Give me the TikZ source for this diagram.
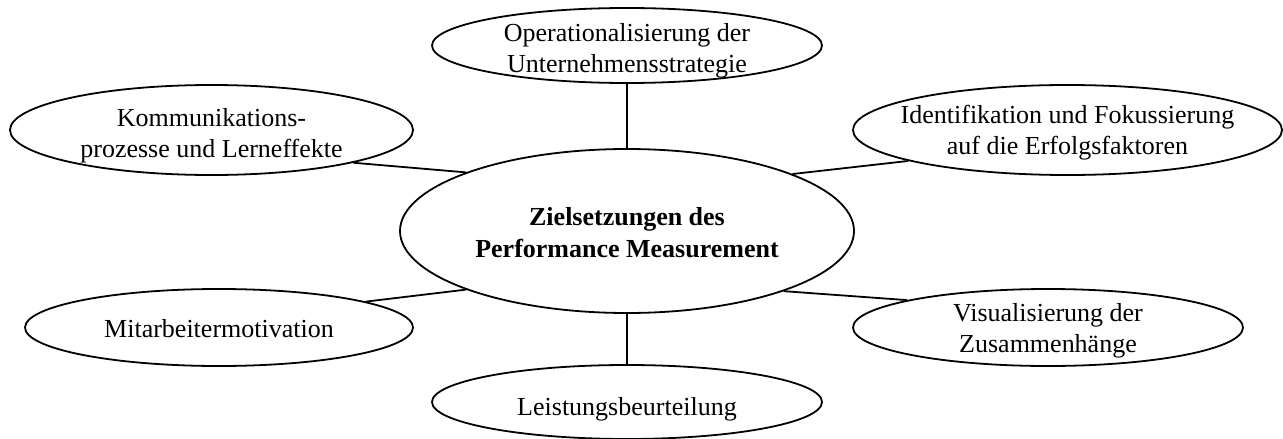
\documentclass[tikz,border=0pt]{standalone}
\usepackage{fontspec}
\setmainfont{Liberation Serif}
\usetikzlibrary{shapes.geometric}
\tikzset{
  goal/.style={ellipse, draw, line width=1.8pt, inner sep=0pt, fill=white},
  lbl/.style={align=center, inner sep=0pt, anchor=base,
    font=\fontsize{26}{30.5}\selectfont},
  link/.style={line width=1.8pt}
}
\begin{document}
\begin{tikzpicture}[x=1pt, y=-1pt]
  \useasboundingbox (0,0) rectangle (1283,439);

  % ellipses
  \node[goal, minimum width=454, minimum height=164] (core) at (627,231) {};
  \node[goal, minimum width=390, minimum height=75]  (strat) at (627,45.5) {};
  \node[goal, minimum width=403, minimum height=90]  (komm) at (211.5,130) {};
  \node[goal, minimum width=429, minimum height=90]  (ident) at (1067.5,130) {};
  \node[goal, minimum width=388, minimum height=77]  (motiv) at (219,327.5) {};
  \node[goal, minimum width=390, minimum height=77]  (visu) at (1048,327.5) {};
  \node[goal, minimum width=390, minimum height=74]  (leist) at (627,402) {};

  % labels (anchored at the baseline of the last line)
  \node[lbl, font=\fontsize{26}{32}\selectfont\bfseries] (core-t) at (627,257)
    {Zielsetzungen des\\Performance Measurement};
  \node[lbl] (strat-t) at (627,72) {Operationalisierung der\\Unternehmensstrategie};
  \node[lbl] (komm-t) at (211.5,157) {Kommunikations-\\prozesse und Lerneffekte};
  \node[lbl] (ident-t) at (1067.5,154) {Identifikation und Fokussierung\\auf die Erfolgsfaktoren};
  \node[lbl] (motiv-t) at (219,337) {Mitarbeitermotivation};
  \node[lbl] (visu-t) at (1048,352) {Visualisierung der\\Zusammenh\"ange};
  \node[lbl] (leist-t) at (627,415) {Leistungsbeurteilung};

  % connectors
  \draw[link] (core.90) -- (strat.270);
  \draw[link] (core.270) -- (leist.90);
  \draw[link] (core.160.3) -- (komm.347.6);
  \draw[link] (core.19.8) -- (ident.191.1);
  \draw[link] (core.200.1) -- (motiv.10.9);
  \draw[link] (core.339.4) -- (visu.169.3);
\end{tikzpicture}
\end{document}
